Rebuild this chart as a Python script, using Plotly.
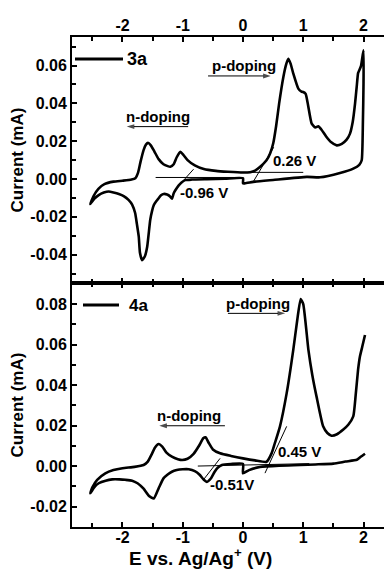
import plotly.graph_objects as go

# ---------------- data ----------------
# Sample 3a : CV path (V vs Ag/Ag+, current in mA)
v_3a = [0.00, -0.30, -0.60, -0.85, -0.96, -1.02, -1.07, -1.12, -1.15, -1.178, -1.21, -1.26, -1.316, -1.36, -1.40,
        -1.44, -1.48, -1.51, -1.54, -1.59, -1.63, -1.676, -1.71, -1.73, -1.76, -1.79, -1.84, -1.90, -1.98, -2.06,
        -2.15, -2.23, -2.31, -2.395, -2.47, -2.535,
        -2.48, -2.40, -2.30, -2.15, -2.00, -1.85, -1.787, -1.74, -1.70, -1.65, -1.61, -1.577, -1.53, -1.47, -1.40,
        -1.32, -1.25, -1.206, -1.15, -1.10, -1.04, -0.99, -0.92, -0.80, -0.65, -0.45, -0.25, 0.00, 0.12, 0.20, 0.28,
        0.39, 0.45, 0.503, 0.55, 0.60, 0.67, 0.72, 0.752, 0.79, 0.835, 0.918, 0.97, 1.00, 1.04, 1.08, 1.14, 1.20,
        1.25, 1.30, 1.38, 1.46, 1.555, 1.64, 1.72, 1.776, 1.82, 1.86, 1.887, 1.91, 1.93, 1.96, 2.00,
        2.00, 1.99, 1.97, 1.93, 1.83, 1.61, 1.28, 1.06, 0.50, 0.20, 0.03, 0.00, 0.00]
i_3a = [0.0004, 0.0001, -0.0001, -0.0003, -0.0006, -0.0018, -0.0035, -0.0058, -0.0075, -0.0104, -0.0092, -0.0082,
        -0.0079, -0.0086, -0.0102, -0.0118, -0.0138, -0.0170, -0.0217, -0.0358, -0.0410, -0.0429, -0.0390, -0.0305,
        -0.0240, -0.0180, -0.0135, -0.0110, -0.0090, -0.0079, -0.0071, -0.0066, -0.0072, -0.0085, -0.0105, -0.0133,
        -0.0090, -0.0052, -0.0027, -0.0014, -0.0009, -0.0003, 0.0004, 0.0035, 0.0092, 0.0153, 0.0182, 0.0192,
        0.0178, 0.0145, 0.0105, 0.0078, 0.0068, 0.0065, 0.0078, 0.0115, 0.0144, 0.0128, 0.0100, 0.0072, 0.0053,
        0.0043, 0.0038, 0.0034, 0.0036, 0.0044, 0.0063, 0.0099, 0.0135, 0.0190, 0.0280, 0.0400, 0.0540, 0.0610,
        0.0636, 0.0610, 0.0557, 0.0478, 0.0462, 0.0460, 0.0450, 0.0390, 0.0293, 0.0272, 0.0279, 0.0262, 0.0225,
        0.0195, 0.0178, 0.0186, 0.0208, 0.0240, 0.0300, 0.0400, 0.0487, 0.0560, 0.0575, 0.0600, 0.0680,
        0.0500, 0.0300, 0.0099, 0.0075, 0.0055, 0.0032, 0.0009, 0.0011, -0.0005, -0.0014, -0.0023, -0.0023, 0.0004]

# Sample 4a : CV path
v_4a = [2.025, 1.95, 1.89, 1.70, 1.50, 1.20, 0.95, 0.60, 0.28, 0.10, 0.00, 0.00, -0.20, -0.35, -0.42, -0.47,
        -0.53, -0.60, -0.65, -0.72, -0.80, -0.90, -1.00, -1.10, -1.18, -1.25, -1.32, -1.40, -1.48, -1.56, -1.65,
        -1.75, -1.84, -1.95, -2.05, -2.17, -2.28, -2.395, -2.47, -2.535,
        -2.50, -2.42, -2.285, -2.15, -2.00, -1.80, -1.65, -1.58, -1.52, -1.46, -1.40, -1.34, -1.27, -1.18, -1.08,
        -1.01, -0.92, -0.82, -0.73, -0.66, -0.62, -0.57, -0.50, -0.38, -0.20, 0.00, 0.20, 0.39, 0.476, 0.53,
        0.614, 0.725, 0.835, 0.90, 0.957, 1.00, 1.085, 1.15, 1.22, 1.33, 1.40, 1.47, 1.56, 1.665, 1.75, 1.83,
        1.87, 1.91, 1.94, 1.98, 2.025]
i_4a = [0.0061, 0.0045, 0.0031, 0.0022, 0.0012, 0.0008, 0.0005, 0.0002, -0.0005, -0.0020, -0.0036, 0.0011,
        0.0010, 0.0005, -0.0008, -0.0028, -0.0060, -0.0078, -0.0068, -0.0043, -0.0025, -0.0016, -0.0016, -0.0020,
        -0.0028, -0.0042, -0.0061, -0.0110, -0.0160, -0.0148, -0.0112, -0.0085, -0.0072, -0.0068, -0.0066,
        -0.0066, -0.0072, -0.0085, -0.0105, -0.0135,
        -0.0105, -0.0068, -0.0036, -0.0020, -0.0011, -0.0004, 0.0005, 0.0022, 0.0055, 0.0092, 0.0109, 0.0096,
        0.0066, 0.0046, 0.0034, 0.0030, 0.0036, 0.0060, 0.0100, 0.0137, 0.0142, 0.0115, 0.0082, 0.0063, 0.0050,
        0.0038, 0.0028, 0.0021, 0.0064, 0.0114, 0.0196, 0.0360, 0.0575, 0.0720, 0.0825, 0.0800, 0.0575, 0.0450,
        0.0344, 0.0196, 0.0163, 0.0150, 0.0157, 0.0180, 0.0205, 0.0245, 0.0350, 0.0476, 0.0540, 0.0590, 0.0647]

# Onset construction lines (tangents and baselines)
tan_3a_n_v = [-0.82, -1.12]; tan_3a_n_i = [0.0052, -0.0055]
base_3a_n_v = [-1.45, 0.00]; base_3a_n_i = [0.0008, 0.0008]
tan_3a_p_v = [0.16, 0.51];   tan_3a_p_i = [-0.0020, 0.0168]
base_3a_p_v = [-0.05, 1.00]; base_3a_p_i = [0.0035, 0.0035]

tan_4a_n_v = [-0.38, -0.66]; tan_4a_n_i = [0.0038, -0.0069]
base_4a_v = [-0.75, 1.10];   base_4a_i = [0.0000, 0.0012]
tan_4a_p_v = [0.365, 0.725]; tan_4a_p_i = [-0.0035, 0.0196]

# sweep-direction arrows (tail -> head, at constant current)
arr_3a_p_v = [-0.58, 0.46];  arr_3a_p_i = [0.0545, 0.0545]
arr_3a_n_v = [-0.91, -1.93]; arr_3a_n_i = [0.0277, 0.0277]
arr_4a_p_v = [-0.25, 0.70];  arr_4a_p_i = [0.0754, 0.0754]
arr_4a_n_v = [-0.30, -1.39]; arr_4a_n_i = [0.0199, 0.0199]

x_tickvals = [-2, -1, 0, 1, 2]
x_ticktext = ["-2", "-1", "0", "1", "2"]
y1_tickvals = [-0.04, -0.02, 0.00, 0.02, 0.04, 0.06]
y1_ticktext = ["-0.04", "-0.02", "0.00", "0.02", "0.04", "0.06"]
y2_tickvals = [-0.02, 0.00, 0.02, 0.04, 0.06, 0.08]
y2_ticktext = ["-0.02", "0.00", "0.02", "0.04", "0.06", "0.08"]

# ---------------- layout constants ----------------
OFF = 8                      # page body margin of the html page
W, H = 392 - OFF, 570 - OFF  # figure size so that it fits the window
L, R, T, B = 72 - OFF, 0, 37 - OFF, 43
FONT = "Liberation Sans, Arial, sans-serif"
XR = [-2.838, 2.473]
Y1R = [-0.055, 0.0751]
Y2R = [-0.0301, 0.0904]
SPLIT = 0.498


def px2paper_x(px):  # px = screen pixel
    return (px - OFF - L) / (W - L - R)


def px2paper_y(py):
    return (H - B - (py - OFF)) / (H - T - B)


fig = go.Figure()
curve = dict(color="black", width=2.6, shape="spline", smoothing=0.5)
fig.add_trace(go.Scatter(x=v_3a, y=i_3a, mode="lines", line=curve,
                         xaxis="x", yaxis="y", name="3a", showlegend=False))
fig.add_trace(go.Scatter(x=v_4a, y=i_4a, mode="lines", line=curve,
                         xaxis="x2", yaxis="y2", name="4a", showlegend=False))
thin = dict(color="black", width=1)
for xs, ys, xa, ya in [(tan_3a_n_v, tan_3a_n_i, "x", "y"), (base_3a_n_v, base_3a_n_i, "x", "y"),
                       (tan_3a_p_v, tan_3a_p_i, "x", "y"), (base_3a_p_v, base_3a_p_i, "x", "y"),
                       (tan_4a_n_v, tan_4a_n_i, "x2", "y2"), (base_4a_v, base_4a_i, "x2", "y2"),
                       (tan_4a_p_v, tan_4a_p_i, "x2", "y2")]:
    fig.add_trace(go.Scatter(x=xs, y=ys, mode="lines", line=thin, xaxis=xa, yaxis=ya,
                             showlegend=False, hoverinfo="skip"))
for xs, ys, xa, ya in [(arr_3a_p_v, arr_3a_p_i, "x", "y"), (arr_3a_n_v, arr_3a_n_i, "x", "y"),
                       (arr_4a_p_v, arr_4a_p_i, "x2", "y2"), (arr_4a_n_v, arr_4a_n_i, "x2", "y2")]:
    fig.add_trace(go.Scatter(x=xs, y=ys, mode="lines+markers", line=thin, xaxis=xa, yaxis=ya,
                             marker=dict(symbol="arrow", angleref="previous", size=[0, 8], color="black",
                                         line=dict(width=0)),
                             showlegend=False, hoverinfo="skip"))

axis_common = dict(showline=True, linecolor="black", linewidth=2, ticks="inside", ticklen=5,
                   tickwidth=1.5, tickcolor="black", showgrid=False, zeroline=False, automargin=False,
                   tickfont=dict(size=16, family=FONT, color="black", weight="bold"))
minor_x = dict(dtick=0.5, tick0=0, ticks="inside", ticklen=4, tickcolor="black", tickwidth=1.5)
minor_y = dict(dtick=0.01, tick0=0, ticks="inside", ticklen=4, tickcolor="black", tickwidth=1.5)
ytitle = dict(text="Current (mA)", font=dict(size=17, family=FONT, weight="bold"), standoff=6)

fig.update_layout(
    width=W, height=H, margin=dict(l=L, r=R, t=T, b=B, autoexpand=False),
    paper_bgcolor="white", plot_bgcolor="white",
    font=dict(family=FONT, color="black", weight="bold"),
    xaxis=dict(axis_common, domain=[0, 1], anchor="y", side="top", mirror="allticks",
               range=XR, tickvals=x_tickvals, ticktext=x_ticktext, ticklabelstandoff=-2, minor=minor_x),
    yaxis=dict(axis_common, domain=[SPLIT, 1], anchor="x", range=Y1R, mirror=False,
               tickvals=y1_tickvals, ticktext=y1_ticktext, minor=minor_y, title=ytitle),
    xaxis2=dict(axis_common, domain=[0, 1], anchor="y2", side="bottom", mirror="allticks",
                range=XR, tickvals=x_tickvals, ticktext=x_ticktext, ticklabelstandoff=-5, minor=minor_x),
    yaxis2=dict(axis_common, domain=[0, SPLIT], anchor="x2", range=Y2R, mirror=False,
                tickvals=y2_tickvals, ticktext=y2_ticktext, minor=minor_y, title=ytitle),
)

# legend-like sample lines
fig.add_shape(type="line", xref="paper", yref="paper", x0=px2paper_x(75), x1=px2paper_x(123),
              y0=px2paper_y(59), y1=px2paper_y(59), line=dict(color="black", width=3))
fig.add_shape(type="line", xref="paper", yref="paper", x0=px2paper_x(83), x1=px2paper_x(119),
              y0=px2paper_y(305), y1=px2paper_y(305), line=dict(color="black", width=3))

ann = []
ann.append(dict(text="3a", xref="paper", yref="paper", x=px2paper_x(125), y=px2paper_y(59),
                xanchor="left", yanchor="middle", showarrow=False, font=dict(size=18)))
ann.append(dict(text="4a", xref="paper", yref="paper", x=px2paper_x(127), y=px2paper_y(305),
                xanchor="left", yanchor="middle", showarrow=False, font=dict(size=17)))

def label(txt, x, y, xa, ya, size=15):
    return dict(text=txt, x=x, y=y, xref=xa, yref=ya, showarrow=False, font=dict(size=size),
                xanchor="center", yanchor="middle")

ann += [label("p-doping", 0.02, 0.0599, "x", "y"),
        label("n-doping", -1.41, 0.0330, "x", "y"),
        label("0.26 V", 0.855, 0.0100, "x", "y"), label("-0.96 V", -0.64, -0.0074, "x", "y"),
        label("p-doping", 0.254, 0.0804, "x2", "y2"),
        label("n-doping", -0.896, 0.0252, "x2", "y2"),
        label("0.45 V", 0.946, 0.0074, "x2", "y2"), label("-0.51V", -0.18, -0.0089, "x2", "y2")]
ann.append(dict(text="E vs. Ag/Ag<sup>+</sup> (V)", xref="paper", yref="paper", x=px2paper_x(200),
                y=px2paper_y(557), xanchor="center", yanchor="middle", showarrow=False, font=dict(size=19)))
fig.update_layout(annotations=ann)

fig.write_html("out.html")
